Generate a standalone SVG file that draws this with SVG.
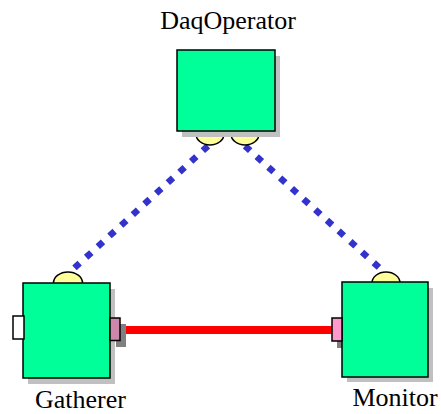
<svg xmlns="http://www.w3.org/2000/svg" width="441" height="414" viewBox="0 0 441 414">
<style>
.shadow{fill:#c0c0c0}
.box{fill:#00ff99;stroke:#000;stroke-width:1.5}
.sp{fill:#ffff99;stroke:#000;stroke-width:1.5}
.lbl{font-family:"Liberation Serif",serif;font-size:26px;fill:#000;text-anchor:middle}
.dash{stroke:#3333cc;stroke-width:6.5;stroke-dasharray:7 8.8;fill:none}
</style>
<rect width="441" height="414" fill="#fff"/>
<g id="connectors">
<line class="dash" x1="208" y1="146" x2="70" y2="272"/>
<line class="dash" x1="245" y1="146" x2="384" y2="272"/>
<line x1="120" y1="330" x2="332" y2="330" stroke="#ff0000" stroke-width="8"/>
</g>
<g id="DaqOperator">
<text class="lbl" x="228" y="29">DaqOperator</text>
<ellipse class="sp" cx="210" cy="134" rx="14" ry="11"/>
<ellipse class="sp" cx="245" cy="134" rx="14" ry="11"/>
<rect class="shadow" x="182" y="56" width="98" height="81"/>
<rect class="box" x="177" y="50" width="98" height="81"/>
</g>
<g id="Gatherer">
<text class="lbl" x="80.5" y="408">Gatherer</text>
<ellipse class="sp" cx="68" cy="283" rx="14.5" ry="11"/>
<rect class="shadow" x="28" y="289" width="87" height="95"/>
<rect class="box" x="23" y="283" width="87" height="95"/>
<rect x="13" y="316" width="11" height="23" fill="#fff" stroke="#000" stroke-width="1.5"/>
<rect x="116" y="324" width="10" height="23" fill="#808080"/>
<rect x="110" y="318" width="10" height="22.5" fill="#cc88aa" stroke="#000" stroke-width="1.5"/>
</g>
<g id="Monitor">
<text class="lbl" x="395" y="406">Monitor</text>
<ellipse class="sp" cx="386" cy="283" rx="14" ry="11"/>
<rect class="shadow" x="347" y="288" width="86" height="94"/>
<rect x="337" y="324" width="10" height="24" fill="#808080"/>
<rect class="box" x="342" y="282" width="86" height="95"/>
<rect x="332" y="318" width="10" height="23" fill="#ff99cc" stroke="#000" stroke-width="1.5"/>
</g>
</svg>
